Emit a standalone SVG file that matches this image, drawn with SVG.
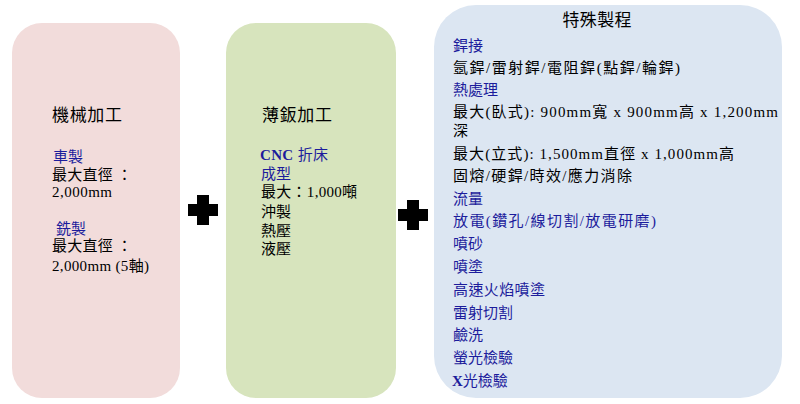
<svg xmlns="http://www.w3.org/2000/svg" width="800" height="404" viewBox="0 0 800 404">
<style>
text{font-family:"Liberation Serif","Noto Sans CJK TC",serif;font-size:15px;fill:#000}
.t{font-size:17px}
.b{fill:#1c1c9c}
.x{font-weight:bold}
.op{fill:#000}
</style>
<rect width="800" height="404" fill="#fff"/>
<g id="machining">
<rect x="12" y="23" width="168" height="375" rx="30" fill="#f2dcdb"/>
<text class="t" x="52" y="121" textLength="70">機械加工</text>
<text class="b" x="53" y="162">車製</text>
<text x="52" y="180" textLength="80">最大直徑 ：</text>
<text x="52" y="197" textLength="60">2,000mm</text>
<text class="b" x="56" y="234">銑製</text>
<text x="52" y="251" textLength="80">最大直徑 ：</text>
<text x="52" y="271" textLength="97">2,000mm (5軸)</text>
</g>
<g id="operators">
<path class="op" d="M197,195h12v9h9v12h-9v9h-12v-9h-9v-12h9z"/>
<path class="op" d="M407,200h12v9h9v12h-9v9h-12v-9h-9v-12h9z"/>
</g>
<g id="sheetmetal">
<rect x="226" y="23" width="170" height="375" rx="30" fill="#d7e4bd"/>
<text class="t" x="262" y="121" textLength="70">薄鈑加工</text>
<text class="b" x="260" y="160" textLength="68"><tspan class="x">CNC</tspan> 折床</text>
<text class="b" x="261" y="179">成型</text>
<text x="261" y="197" textLength="96">最大：1,000噸</text>
<text x="261" y="217">沖製</text>
<text x="261" y="236">熱壓</text>
<text x="261" y="254">液壓</text>
</g>
<g id="special">
<rect x="434" y="5" width="348" height="393" rx="42" fill="#dce6f2"/>
<text class="t" x="597" y="26" text-anchor="middle" textLength="69">特殊製程</text>
<text class="b" x="453" y="51">銲接</text>
<text x="453" y="73" textLength="227">氬銲/雷射銲/電阻銲(點銲/輪銲)</text>
<text class="b" x="453" y="95">熱處理</text>
<text x="453" y="117" textLength="325">最大(臥式): 900mm寬 x 900mm高 x 1,200mm</text>
<text x="453" y="136">深</text>
<text x="453" y="159" textLength="281">最大(立式): 1,500mm直徑 x 1,000mm高</text>
<text x="453" y="181" textLength="179">固熔/硬銲/時效/應力消除</text>
<text class="b" x="453" y="204">流量</text>
<text class="b" x="453" y="226" textLength="203">放電(鑽孔/線切割/放電研磨)</text>
<text class="b" x="453" y="249">噴砂</text>
<text class="b" x="453" y="272">噴塗</text>
<text class="b" x="453" y="295" textLength="92">高速火焰噴塗</text>
<text class="b" x="453" y="318" textLength="60">雷射切割</text>
<text class="b" x="453" y="340">鹼洗</text>
<text class="b" x="453" y="363" textLength="60">螢光檢驗</text>
<text class="b" x="452" y="386"><tspan class="x">X</tspan>光檢驗</text>
</g>
</svg>
